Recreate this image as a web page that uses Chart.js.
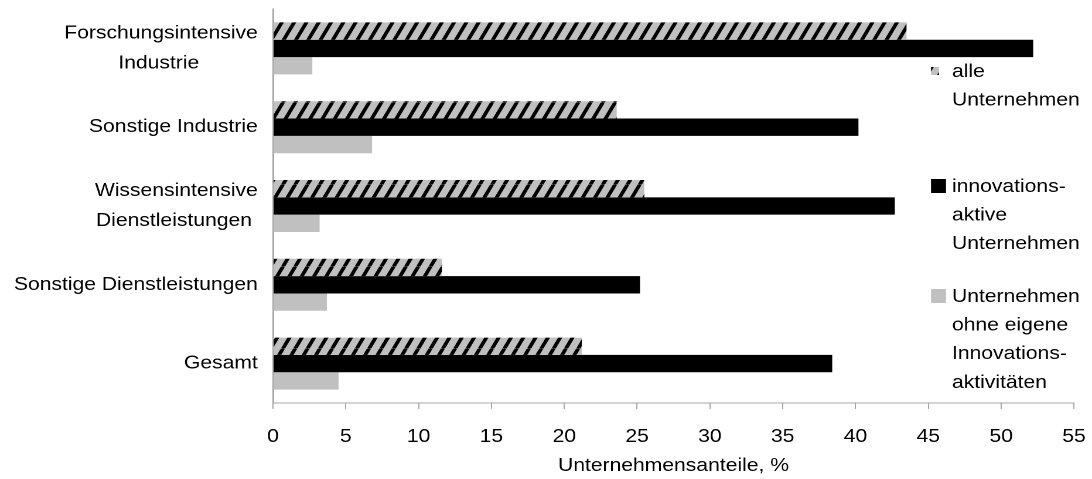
<!DOCTYPE html>
<html><head><meta charset="utf-8">
<script src="https://cdn.jsdelivr.net/npm/chart.js@4.4.1/dist/chart.umd.min.js"></script>
<style>
html,body{margin:0;padding:0;background:#fff;overflow:hidden}
#wrap{width:932px;height:479px;transform:scaleX(1.1716738);transform-origin:0 0}
#c{display:block}
</style></head>
<body>
<div id="wrap"><canvas id="c" width="932" height="479" style="width:932px;height:479px"></canvas></div>
<script>
// ---- data ----
const categories = [
  ["Forschungsintensive", "Industrie"],
  ["Sonstige Industrie"],
  ["Wissensintensive", "Dienstleistungen"],
  ["Sonstige Dienstleistungen"],
  ["Gesamt"]
];
const seriesNames = [
  ["alle", "Unternehmen"],
  ["innovations-", "aktive", "Unternehmen"],
  ["Unternehmen", "ohne eigene", "Innovations-", "aktivitäten"]
];
const alleUnternehmen   = [43.5, 23.6, 25.5, 11.6, 21.2];
const innovationsAktive = [52.2, 40.2, 42.7, 25.2, 38.4];
const ohneInnovation    = [2.7, 6.8, 3.2, 3.7, 4.5];
const xTickValues = [0, 5, 10, 15, 20, 25, 30, 35, 40, 45, 50, 55];
const xTitle = "Unternehmensanteile, %";

// ---- styling ----
const FONT = '"Liberation Sans", Arial, sans-serif';
const FS = 18;
Chart.defaults.font.family = FONT;
Chart.defaults.font.size = FS;
Chart.defaults.color = '#000';
const AXIS = '#a6a6a6';

const canvas = document.getElementById('c');
const ctx = canvas.getContext('2d');

function makeHatch() {
  const s = 4, w = 10.5, h = 20.5;
  const c = document.createElement('canvas');
  c.width = Math.round(w * s); c.height = Math.round(h * s);
  const g = c.getContext('2d');
  g.scale(s, s);
  g.fillStyle = '#c0c0c0';
  g.fillRect(0, 0, w, h);
  g.strokeStyle = '#000';
  g.lineWidth = 3.2;
  for (let k = -1; k <= 1; k++) {
    g.beginPath();
    g.moveTo(k * w, h);
    g.lineTo(k * w + w, 0);
    g.stroke();
  }
  const p = ctx.createPattern(c, 'repeat');
  p.setTransform(new DOMMatrix().scale(1 / s));
  return p;
}
const hatch = makeHatch();

// center lines of a multi-line category label by padding shorter ones with spaces
const measurer = document.createElement('canvas').getContext('2d');
function centerLines(lines) {
  if (!Array.isArray(lines) || lines.length < 2) return lines;
  measurer.font = FS + 'px ' + FONT;
  const sp = measurer.measureText(' ').width;
  const widths = lines.map(l => measurer.measureText(l).width);
  const maxW = Math.max(...widths);
  return lines.map((l, i) => l + ' '.repeat(Math.round((maxW - widths[i]) / 2 / sp)));
}

const legendLayout = {
  x: 794.6, textX: 812.5, lineHeight: 28.6,
  baselines: [77, 192, 302],
  boxes: [{w: 6.8, h: 8, dy: -10}, {w: 12.8, h: 14, dy: -13}, {w: 12.8, h: 14, dy: -13}]
};

const legendPlugin = {
  id: 'sideLegend',
  afterDraw(chart) {
    const c = chart.ctx;
    const L = legendLayout;
    c.save();
    c.font = FS + 'px ' + FONT;
    c.textBaseline = 'alphabetic';
    c.textAlign = 'left';
    chart.data.datasets.forEach((ds, i) => {
      const b = L.boxes[i];
      const base = L.baselines[i];
      c.fillStyle = ds.backgroundColor;
      c.fillRect(L.x, base + b.dy, b.w, b.h);
      c.fillStyle = '#000';
      const lines = Array.isArray(ds.label) ? ds.label : [ds.label];
      lines.forEach((t, j) => c.fillText(t, L.textX, base + j * L.lineHeight));
    });
    c.restore();
  }
};

new Chart(ctx, {
  type: 'bar',
  data: {
    labels: categories,
    datasets: [
      {label: seriesNames[0], data: alleUnternehmen, backgroundColor: hatch},
      {label: seriesNames[1], data: innovationsAktive, backgroundColor: '#000000'},
      {label: seriesNames[2], data: ohneInnovation, backgroundColor: '#c0c0c0'}
    ]
  },
  options: {
    indexAxis: 'y',
    responsive: false,
    animation: false,
    devicePixelRatio: 2,
    layout: {padding: {top: 9, right: 15.4, left: 0, bottom: 0}},
    datasets: {bar: {barPercentage: 1, categoryPercentage: 0.66, borderWidth: 0}},
    plugins: {legend: {display: false}, tooltip: {enabled: false}},
    scales: {
      x: {
        type: 'linear', min: 0, max: 55,
        afterBuildTicks: s => { s.ticks = xTickValues.map(v => ({value: v})); },
        ticks: {color: '#000', font: {size: FS}, padding: 17},
        grid: {display: true, drawOnChartArea: false, tickLength: 6, color: AXIS},
        border: {display: true, color: AXIS, width: 1},
        title: {display: true, text: xTitle, color: '#000', font: {size: FS}, padding: {top: 0, bottom: 2}},
        afterFit: s => { s.height = 76; s.paddingLeft = 0; s.paddingRight = 0; }
      },
      y: {
        ticks: {
          color: '#000', font: {size: FS, lineHeight: 30 / FS}, padding: 13,
          callback: function (value) { return centerLines(this.getLabelForValue(value)); }
        },
        grid: {display: false, drawTicks: false},
        border: {display: true, color: AXIS, width: 1.5},
        afterFit: s => { s.width = 233; s.paddingTop = 0; s.paddingBottom = 0; }
      }
    }
  },
  plugins: [legendPlugin]
});
</script>
</body></html>
